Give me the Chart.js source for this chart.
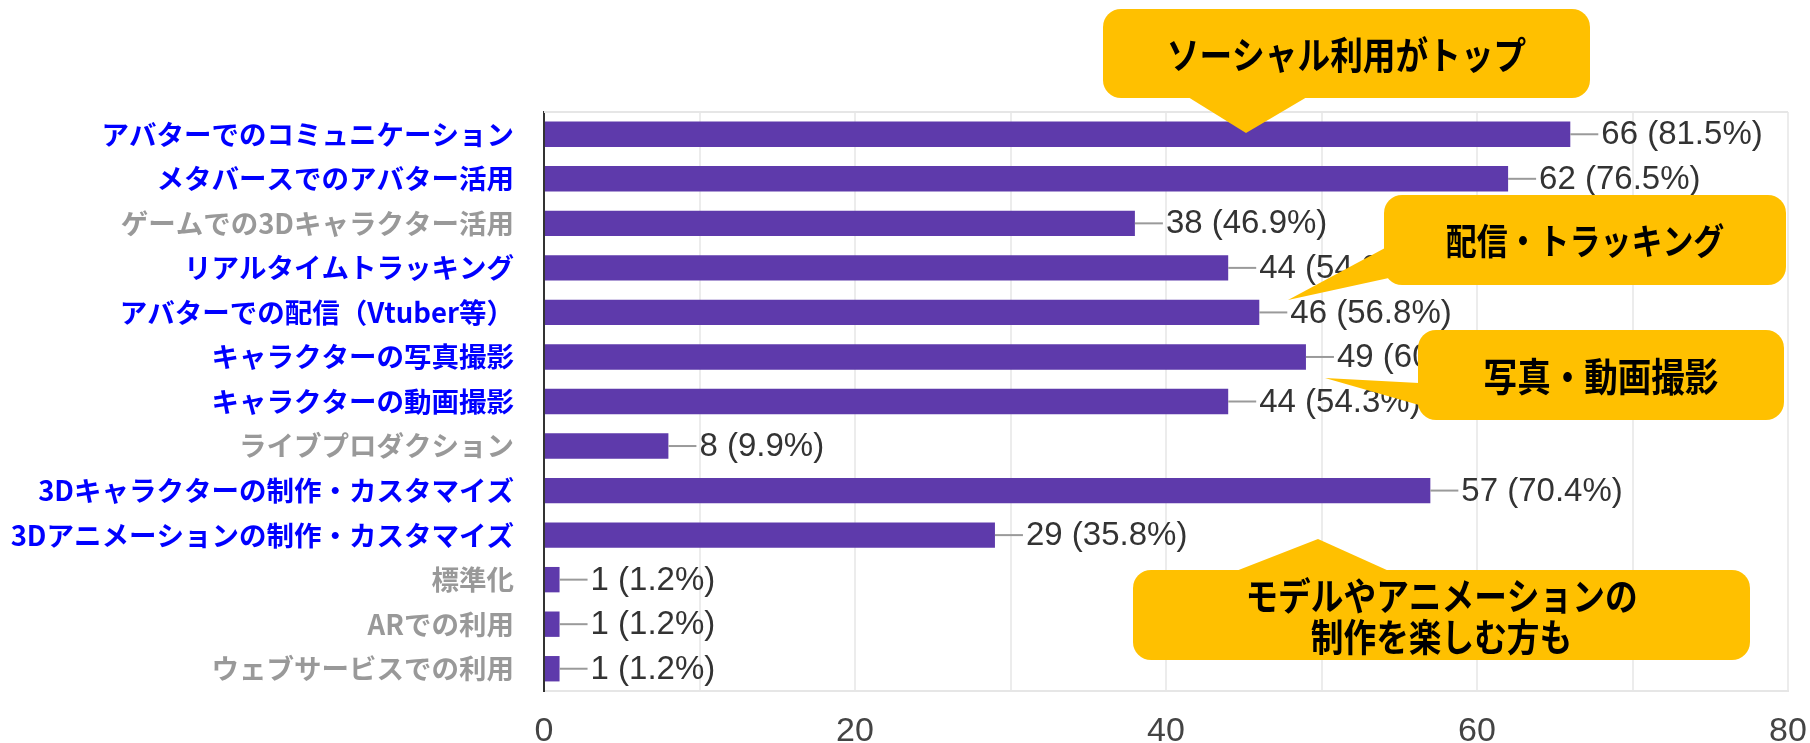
<!DOCTYPE html>
<html lang="ja">
<head>
<meta charset="utf-8">
<title>アバター利用用途</title>
<script src="https://cdn.jsdelivr.net/npm/chart.js@4.4.1/dist/chart.umd.min.js"></script>
<style>
    html, body { margin: 0; padding: 0; background: #ffffff; }
    #chart-container { width: 1810px; height: 743px; }
</style>
</head>
<body>
<div id="chart-container"><canvas id="usageChart" width="1810" height="743"></canvas></div>
<script>
// Chart data
const categories = [
    "アバターでのコミュニケーション",
    "メタバースでのアバター活用",
    "ゲームでの3Dキャラクター活用",
    "リアルタイムトラッキング",
    "アバターでの配信（Vtuber等）",
    "キャラクターの写真撮影",
    "キャラクターの動画撮影",
    "ライブプロダクション",
    "3Dキャラクターの制作・カスタマイズ",
    "3Dアニメーションの制作・カスタマイズ",
    "標準化",
    "ARでの利用",
    "ウェブサービスでの利用"
];
const counts = [66, 62, 38, 44, 46, 49, 44, 8, 57, 29, 1, 1, 1];
const percents = ["81.5", "76.5", "46.9", "54.3", "56.8", "60.5", "54.3", "9.9", "70.4", "35.8", "1.2", "1.2", "1.2"];
const highlighted = [true, true, false, true, true, true, true, false, true, true, false, false, false];
const xTickLabels = [0, 20, 40, 60, 80];

// Callout boxes (decoration drawn on top of the chart)
const callouts = [
    { lines: ["ソーシャル利用がトップ"], box: [1103, 9, 1590, 98], size: 38,
      pointer: [[1188, 97], [1246, 133], [1307, 97]] },
    { lines: ["配信・トラッキング"], box: [1384, 195, 1786, 285], size: 36,
      pointer: [[1385, 248], [1288, 300], [1398, 276]] },
    { lines: ["写真・動画撮影"], box: [1418, 330, 1784, 420], size: 39,
      pointer: [[1419, 383], [1325, 378], [1419, 405]] },
    { lines: ["モデルやアニメーションの", "制作を楽しむ方も"], box: [1133, 570, 1750, 660], size: 38,
      pointer: [[1236, 571], [1318, 539], [1389, 571]] }
];

const JP_FONT = '"Noto Sans CJK JP", "Noto Sans", sans-serif';
const NUM_FONT = '"Liberation Sans", Arial, sans-serif';

// top border line of the plot area
const plotFrame = {
    id: 'plotFrame',
    beforeDatasetsDraw(chart) {
        const { ctx, chartArea } = chart;
        ctx.save();
        ctx.strokeStyle = '#e6e6e6';
        ctx.lineWidth = 2;
        ctx.beginPath();
        ctx.moveTo(chartArea.left, chartArea.top);
        ctx.lineTo(chartArea.right, chartArea.top);
        ctx.stroke();
        ctx.restore();
    }
};

// "66 (81.5%)" labels with a short leader line
const valueLabels = {
    id: 'valueLabels',
    afterDatasetsDraw(chart) {
        const { ctx } = chart;
        const meta = chart.getDatasetMeta(0);
        ctx.save();
        ctx.font = `33px ${NUM_FONT}`;
        ctx.textBaseline = 'middle';
        ctx.textAlign = 'left';
        meta.data.forEach((bar, i) => {
            ctx.strokeStyle = '#9a9a9a';
            ctx.lineWidth = 2;
            ctx.beginPath();
            ctx.moveTo(bar.x, bar.y);
            ctx.lineTo(bar.x + 28, bar.y);
            ctx.stroke();
            ctx.fillStyle = '#333333';
            ctx.fillText(`${counts[i]} (${percents[i]}%)`, bar.x + 31, bar.y + 1);
        });
        ctx.restore();
    }
};

// yellow speech-bubble notes (text slightly condensed like the original slide)
const calloutNotes = {
    id: 'calloutNotes',
    afterDraw(chart) {
        const { ctx } = chart;
        ctx.save();
        callouts.forEach(c => {
            const [x1, y1, x2, y2] = c.box;
            ctx.fillStyle = '#ffc000';
            ctx.beginPath();
            ctx.roundRect(x1, y1, x2 - x1, y2 - y1, 18);
            ctx.fill();
            ctx.beginPath();
            ctx.moveTo(c.pointer[0][0], c.pointer[0][1]);
            ctx.lineTo(c.pointer[1][0], c.pointer[1][1]);
            ctx.lineTo(c.pointer[2][0], c.pointer[2][1]);
            ctx.closePath();
            ctx.fill();

            const cx = (x1 + x2) / 2;
            const cy = (y1 + y2) / 2;
            const lh = 41;
            c.lines.forEach((line, i) => {
                ctx.save();
                ctx.translate(cx, cy + (i - (c.lines.length - 1) / 2) * lh + 1);
                ctx.scale(0.86, 1);
                ctx.fillStyle = '#000000';
                ctx.font = `bold ${c.size}px ${JP_FONT}`;
                ctx.textAlign = 'center';
                ctx.textBaseline = 'middle';
                ctx.fillText(line, 0, 0);
                ctx.restore();
            });
        });
        ctx.restore();
    }
};

const ctx = document.getElementById('usageChart').getContext('2d');

new Chart(ctx, {
    type: 'bar',
    data: {
        labels: categories,
        datasets: [{
            data: counts,
            backgroundColor: '#5e3aab',
            barPercentage: 0.57,
            categoryPercentage: 1
        }]
    },
    options: {
        indexAxis: 'y',
        responsive: false,
        animation: false,
        layout: { padding: { top: 112, right: 22, bottom: 0, left: 0 } },
        plugins: {
            legend: { display: false },
            tooltip: { enabled: false }
        },
        scales: {
            x: {
                min: 0,
                max: 80,
                ticks: {
                    stepSize: 10,
                    autoSkip: false,
                    maxRotation: 0,
                    padding: 20,
                    color: '#444444',
                    font: { family: NUM_FONT, size: 34 },
                    callback: v => xTickLabels.includes(v) ? String(v) : ''
                },
                grid: { color: '#ececec', lineWidth: 2, drawTicks: false },
                border: { display: true, color: '#e6e6e6', width: 2 },
                afterFit: axis => {
                    axis.height = 52;
                    axis.paddingLeft = 0;
                    axis.paddingRight = 0;
                }
            },
            y: {
                ticks: {
                    autoSkip: false,
                    padding: 30,
                    color: c => highlighted[c.index] ? '#0000ff' : '#999999',
                    font: { family: JP_FONT, size: 27.5, weight: 'bold' }
                },
                grid: { display: false, drawTicks: false },
                border: { display: true, color: '#333333', width: 2 },
                afterFit: axis => { axis.width = 544; }
            }
        }
    },
    plugins: [plotFrame, valueLabels, calloutNotes]
});
</script>
</body>
</html>
